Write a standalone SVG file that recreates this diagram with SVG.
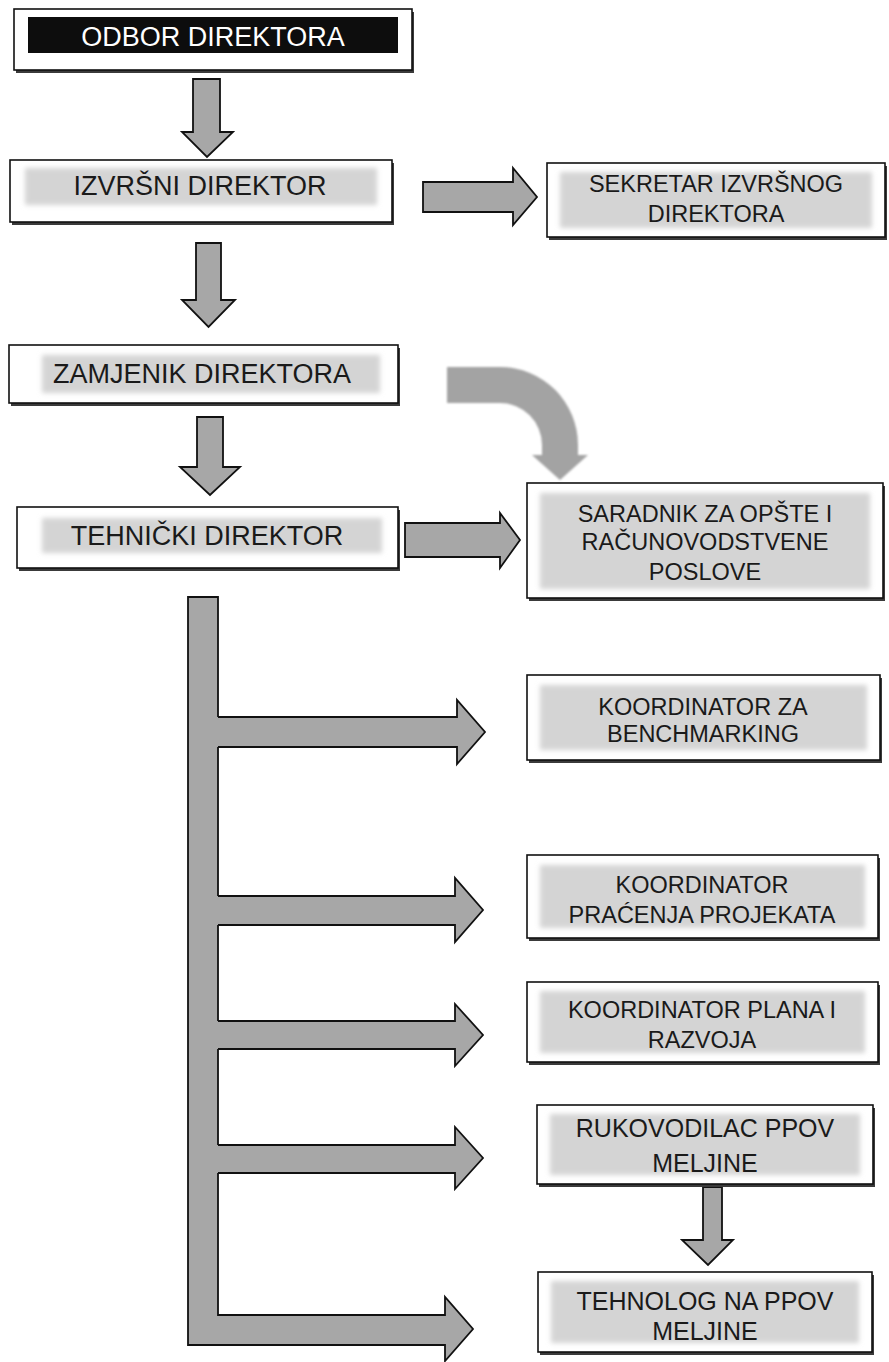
<svg xmlns="http://www.w3.org/2000/svg" width="889" height="1362" viewBox="0 0 889 1362">
<defs>
<filter id="soft" x="-5%" y="-20%" width="110%" height="140%"><feGaussianBlur stdDeviation="2.5"/></filter>
<filter id="soft2" x="-10%" y="-10%" width="120%" height="120%"><feGaussianBlur stdDeviation="1.2"/></filter>
<style>
.box{fill:#ffffff;stroke:#111;stroke-width:1.6}
.shadow{fill:#3a3a3a}
.band{fill:#d4d4d4;filter:url(#soft)}
.arrow{fill:#a7a7a7;stroke:#111;stroke-width:1.8;stroke-linejoin:miter}
.afill{fill:#a7a7a7;stroke:none}
.aline{fill:none;stroke:#111;stroke-width:1.8}
.curve{fill:#a3a3a3;filter:url(#soft2)}
.tl{font-family:"Liberation Sans",Arial,sans-serif;font-size:27px;fill:#1a1a1a;text-anchor:middle}
.tr{font-family:"Liberation Sans",Arial,sans-serif;font-size:23.5px;fill:#1a1a1a;text-anchor:middle}
.tb{font-family:"Liberation Sans",Arial,sans-serif;font-size:25px;fill:#1a1a1a;text-anchor:middle}
</style>
</defs>
<rect width="889" height="1362" fill="#ffffff"/>

<g id="connectors">
  <!-- vertical arrows -->
  <polygon class="arrow" points="193,79 220,79 220,132 233,132 207,157 182,132 193,132"/>
  <polygon class="arrow" points="196,243 221,243 221,300 235,300 208.5,327 182,300 196,300"/>
  <polygon class="arrow" points="197,417 223,417 223,467 240,467 210,495 180,467 197,467"/>
  <polygon class="arrow" points="703,1187 722,1187 722,1240 733,1240 708,1265 682,1240 703,1240"/>
  <!-- horizontal arrows -->
  <polygon class="arrow" points="423,182 513,182 513,168 537,197 513,225 513,212 423,212"/>
  <polygon class="arrow" points="405,523 500,523 500,513 520,540 500,568 500,557 405,557"/>
  <!-- curved arrow -->
  <path class="curve" d="M447,367 L500,367 A78,78 0 0 1 578,445 L578,455 L588,455 L560,480 L532,455 L542,455 L542,445 A42,42 0 0 0 500,403 L447,403 Z"/>
  <!-- trunk with bottom arrow -->
  <polygon class="arrow" points="188,597 218,597 218,1315 445,1315 445,1297 473,1329 445,1361 445,1345 188,1345"/>
  <!-- branch arrows -->
  <polygon class="afill" points="215,717 457,717 457,700 485,732 457,764 457,747 215,747"/>
  <polyline class="aline" points="218,717 457,717 457,700 485,732 457,764 457,747 218,747"/>
  <polygon class="afill" points="215,896 455,896 455,878 483,910 455,942 455,925 215,925"/>
  <polyline class="aline" points="218,896 455,896 455,878 483,910 455,942 455,925 218,925"/>
  <polygon class="afill" points="215,1021 455,1021 455,1004 483,1035 455,1066 455,1049 215,1049"/>
  <polyline class="aline" points="218,1021 455,1021 455,1004 483,1035 455,1066 455,1049 218,1049"/>
  <polygon class="afill" points="215,1145 455,1145 455,1127 483,1158 455,1189 455,1173 215,1173"/>
  <polyline class="aline" points="218,1145 455,1145 455,1127 483,1158 455,1189 455,1173 218,1173"/>
</g>

<g id="odbor">
  <rect class="shadow" x="16" y="12" width="398" height="61"/>
  <rect class="box" x="14" y="9" width="398" height="61"/>
  <rect x="28" y="17" width="370" height="36" fill="#0d0d0d"/>
  <text class="tl" x="213" y="46" fill="#ffffff" style="fill:#ffffff">ODBOR DIREKTORA</text>
</g>

<g id="izvrsni">
  <rect class="shadow" x="12" y="163" width="382" height="62"/>
  <rect class="box" x="10" y="160" width="382" height="62"/>
  <rect class="band" x="25" y="168" width="352" height="37"/>
  <text class="tl" x="200" y="195">IZVRŠNI DIREKTOR</text>
</g>

<g id="sekretar">
  <rect class="shadow" x="549" y="166" width="338" height="74"/>
  <rect class="box" x="547" y="163" width="338" height="74"/>
  <rect class="band" x="560" y="172" width="312" height="56"/>
  <text class="tr" x="716" y="192">SEKRETAR IZVRŠNOG</text>
  <text class="tr" x="716" y="222">DIREKTORA</text>
</g>

<g id="zamjenik">
  <rect class="shadow" x="11" y="348" width="389" height="58"/>
  <rect class="box" x="9" y="345" width="389" height="58"/>
  <rect class="band" x="42" y="355" width="338" height="38"/>
  <text class="tl" x="202" y="383">ZAMJENIK DIREKTORA</text>
</g>

<g id="tehnicki">
  <rect class="shadow" x="19" y="510" width="381" height="61"/>
  <rect class="box" x="17" y="507" width="381" height="61"/>
  <rect class="band" x="42" y="518" width="340" height="35"/>
  <text class="tl" x="207" y="545">TEHNIČKI DIREKTOR</text>
</g>

<g id="saradnik">
  <rect class="shadow" x="529" y="486" width="356" height="115"/>
  <rect class="box" x="527" y="483" width="356" height="115"/>
  <rect class="band" x="540" y="493" width="330" height="96"/>
  <text class="tr" x="705" y="522">SARADNIK ZA OPŠTE I</text>
  <text class="tr" x="705" y="550">RAČUNOVODSTVENE</text>
  <text class="tr" x="705" y="580">POSLOVE</text>
</g>

<g id="benchmarking">
  <rect class="shadow" x="529" y="678" width="353" height="85"/>
  <rect class="box" x="527" y="675" width="353" height="85"/>
  <rect class="band" x="540" y="685" width="327" height="65"/>
  <text class="tr" x="703" y="715">KOORDINATOR ZA</text>
  <text class="tr" x="703" y="742">BENCHMARKING</text>
</g>

<g id="pracenja">
  <rect class="shadow" x="529" y="858" width="351" height="83"/>
  <rect class="box" x="527" y="855" width="351" height="83"/>
  <rect class="band" x="540" y="865" width="325" height="63"/>
  <text class="tr" x="702" y="893">KOORDINATOR</text>
  <text class="tr" x="702" y="923">PRAĆENJA PROJEKATA</text>
</g>

<g id="plana">
  <rect class="shadow" x="529" y="985" width="351" height="80"/>
  <rect class="box" x="527" y="982" width="351" height="80"/>
  <rect class="band" x="540" y="991" width="325" height="62"/>
  <text class="tr" x="702" y="1018">KOORDINATOR PLANA I</text>
  <text class="tr" x="702" y="1048">RAZVOJA</text>
</g>

<g id="rukovodilac">
  <rect class="shadow" x="539" y="1108" width="336" height="79"/>
  <rect class="box" x="537" y="1105" width="336" height="79"/>
  <rect class="band" x="550" y="1114" width="310" height="61"/>
  <text class="tb" x="705" y="1137">RUKOVODILAC PPOV</text>
  <text class="tb" x="705" y="1172">MELJINE</text>
</g>

<g id="tehnolog">
  <rect class="shadow" x="540" y="1275" width="334" height="80"/>
  <rect class="box" x="538" y="1272" width="334" height="80"/>
  <rect class="band" x="551" y="1281" width="308" height="62"/>
  <text class="tb" x="705" y="1310">TEHNOLOG NA PPOV</text>
  <text class="tb" x="705" y="1340">MELJINE</text>
</g>
</svg>
